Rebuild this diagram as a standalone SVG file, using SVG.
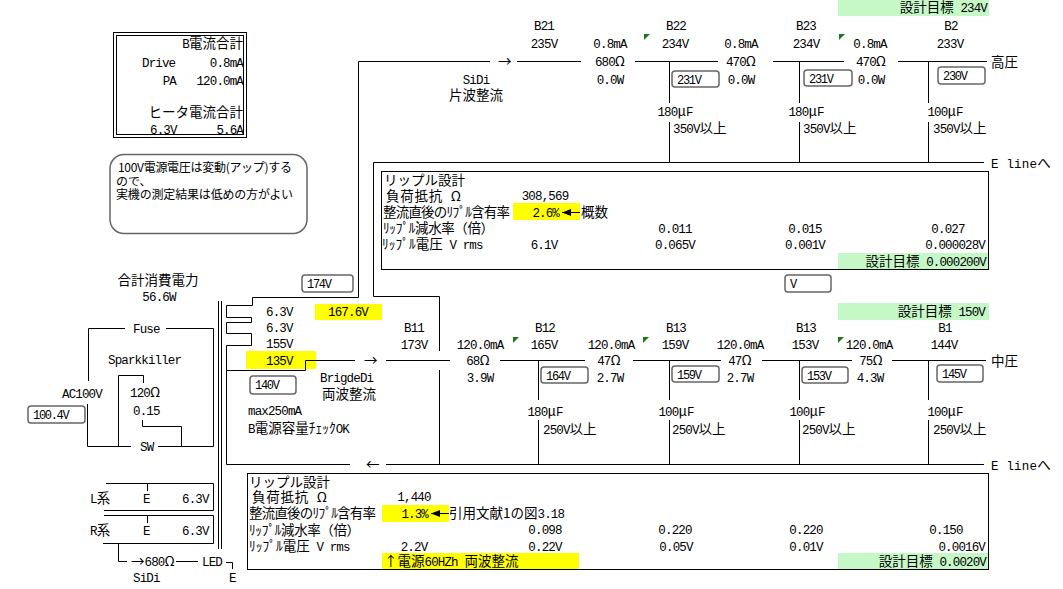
<svg xmlns="http://www.w3.org/2000/svg" width="1063" height="589" viewBox="0 0 1063 589">
<style>
text{font-family:"Liberation Mono","Noto Sans CJK JP",monospace;font-size:12.5px;letter-spacing:-.85px;fill:#000;white-space:pre}
.k{font-family:"Noto Sans CJK JP","Liberation Sans",sans-serif;font-size:13.5px;letter-spacing:0;font-weight:400}
.s{font-family:"Noto Sans CJK JP","Liberation Sans",sans-serif;font-size:12px;letter-spacing:0;font-weight:400}
.p{font-size:12px;letter-spacing:-1.3px}
.e{letter-spacing:.2px}
.m{text-anchor:middle}.r{text-anchor:end}
.w{fill:none;stroke:#000;stroke-width:1}
.pill{fill:#fff;stroke:#666;stroke-width:1.5}
.y{fill:#ffff00}.g{fill:#c6f7c6}.t{fill:#1a7a1a}
.box{fill:#fff;stroke:#000;stroke-width:1}
</style>
<defs><marker id="ah" markerUnits="userSpaceOnUse" markerWidth="9" markerHeight="7" refX="9" refY="3.500" orient="auto"><path d="M0 0L9 3.500L0 7Z" fill="#000"/></marker></defs>
<rect width="1063" height="589" fill="#fff"/>

<g id="fills">
<rect class="g" x="838" y="0" width="151" height="16"/>
<rect class="y" x="315" y="304" width="67" height="16"/>
<rect class="g" x="838" y="303" width="151" height="17"/>
<rect class="y" x="246" y="351" width="70" height="18"/>
</g>

<g id="connectors">
<path class="w" d="M226.500 305.500H252.500V297.500H358.500V61.500H490"/>
<path class="w" d="M517 61.500H581M635 61.500H718M773 61.500H844M898 61.500H987"/>
<path class="w" d="M669.500 61V103M669.500 122V163M799.500 61V103M799.500 122V163M928.500 61V103M928.500 122V163"/>
<path class="w" d="M373.500 296.500V162.500H984"/>
<path class="w" d="M373.500 296.500H439.500V351M439.500 370V465"/>
<path class="w" d="M218.500 301V549M221.500 301V549"/>
<path class="w" d="M226.500 305.500V317.500H251.500V322.500H226.500V333.500H251.500V345.500H226.500V464.500H350M386 464.500H984"/>
<path class="w" d="M226.500 370.500H305.500V360.500H355M386 360.500H450M500 360.500H585M633 360.500H721M762 360.500H852M892 360.500H986"/>
<path class="w" d="M538.500 360V400M538.500 420V465M669.500 360V400M669.500 420V465M799.500 360V400M799.500 420V465M928.500 360V400M928.500 420V465"/>
<path class="w" d="M88.500 381V328.500H125M166 328.500H213.500V446.500H158M131 446.500H87.500V404"/>
<path class="w" d="M118.500 446V375.500H143.500V383M142.500 420V426.500H181.500V446"/>
<path class="w" d="M106 483.500H213.500V510.500H104M147.500 483V491M104 515.500H213.500V543.500H103M147.500 515V523"/>
<path class="w" d="M118.500 543V561.500H127M176 561.500H198M226 562.500H232.500V569"/>
</g>

<g id="b-total">
<rect class="w" x="113.500" y="32.500" width="133" height="105"/>
<rect class="w" x="116.500" y="35.500" width="127" height="99"/>
<text class="r" x="243" y="48"><tspan>B</tspan><tspan class="k">電流合計</tspan></text>
<text x="142" y="67">Drive</text><text class="r" x="243" y="67">0.8mA</text>
<text class="r" x="176" y="85">PA</text><text class="r" x="243" y="85">120.0mA</text>
<text class="k r" x="243" y="117">ヒータ電流合計</text>
<text x="150" y="134">6.3V</text><text class="r" x="243" y="134">5.6A</text>
</g>

<g id="note">
<rect class="pill" x="110" y="154.500" width="197" height="79" rx="14"/>
<text class="s" x="118" y="172" textLength="174">100V電源電圧は変動(アップ)する</text>
<text class="s" x="116" y="186">ので、</text>
<text class="s" x="116" y="199" textLength="177">実機の測定結果は低めの方がよい</text>
</g>

<g id="power-total">
<text class="k m" x="158" y="285">合計消費電力</text>
<text class="m" x="159" y="301">56.6W</text>
</g>

<g id="primary">
<text x="133" y="333">Fuse</text>
<text x="108" y="364">Sparkkiller</text>
<text x="62" y="398">AC100V</text>
<text x="130" y="397">120<tspan class="k">Ω</tspan></text>
<text x="133" y="415">0.15</text>
<text x="140" y="451">SW</text>
<rect class="pill" x="28" y="406" width="57" height="17" rx="3"/>
<text class="p" x="33" y="419">100.4V</text>
</g>

<g id="heaters">
<text x="90" y="503">L<tspan class="k">系</tspan></text><text x="143" y="503">E</text><text x="182" y="503">6.3V</text>
<text x="90" y="535">R<tspan class="k">系</tspan></text><text x="143" y="535">E</text><text x="182" y="535">6.3V</text>
<text x="131" y="566"><tspan class="k">→</tspan>680<tspan class="k">Ω</tspan></text>
<text x="202" y="566">LED</text>
<text x="229" y="582">E</text>
<text x="133" y="582">SiDi</text>
</g>

<g id="transformer">
<rect class="pill" x="302" y="275" width="51" height="17" rx="3"/><text class="p" x="307" y="288">174V</text>
<text x="266" y="316">6.3V</text><text class="m" x="348" y="316">167.6V</text>
<text x="266" y="332">6.3V</text>
<text x="266" y="348">155V</text>
<text x="266" y="365">135V</text>
<rect class="pill" x="250" y="376" width="46" height="18" rx="3"/><text class="p" x="255" y="389">140V</text>
<text x="248" y="415">max250mA</text>
<text x="248" y="433">B<tspan class="k">電源容量ﾁｪｯｸ</tspan>OK</text>
<text x="320" y="382">BrigdeDi</text>
<text class="k" x="322" y="399">両波整流</text>
<text class="k" x="364" y="365">→</text>
<text class="k" x="366" y="469">←</text>
</g>

<g id="high-voltage">
<text class="r" x="987" y="12"><tspan class="k">設計目標</tspan> 234V</text>
<text class="m" x="544" y="30">B21</text><text class="m" x="676" y="30">B22</text><text class="m" x="806" y="30">B23</text><text class="m" x="951" y="30">B2</text>
<text class="m" x="544" y="48">235V</text><text class="m" x="610" y="48">0.8mA</text><text class="m" x="675" y="48">234V</text><text class="m" x="741" y="48">0.8mA</text><text class="m" x="806" y="48">234V</text><text class="m" x="870" y="48">0.8mA</text><text class="m" x="950" y="48">233V</text>
<path class="t" d="M644 34H650L644 40Z"/><path class="t" d="M839 34H845L839 40Z"/>
<text class="k" x="498" y="66">→</text>
<text class="m" x="610" y="66">680<tspan class="k">Ω</tspan></text><text class="m" x="741" y="66">470<tspan class="k">Ω</tspan></text><text class="m" x="871" y="66">470<tspan class="k">Ω</tspan></text>
<text class="k" x="991" y="67">高圧</text>
<text class="m" x="610" y="84">0.0W</text><text class="m" x="741" y="84">0.0W</text><text class="m" x="871" y="84">0.0W</text>
<text class="m" x="476" y="84">SiDi</text><text class="k m" x="476" y="100">片波整流</text>
<rect class="pill" x="672" y="71" width="47" height="16" rx="3"/><text class="p" x="677" y="84">231V</text>
<rect class="pill" x="804" y="70" width="48" height="16" rx="3"/><text class="p" x="809" y="83">231V</text>
<rect class="pill" x="938" y="67" width="47" height="17" rx="3"/><text class="p" x="943" y="80">230V</text>
<text class="m" x="675" y="116">180<tspan class="k">μ</tspan>F</text><text class="m" x="806" y="116">180<tspan class="k">μ</tspan>F</text><text class="m" x="945" y="116">100<tspan class="k">μ</tspan>F</text>
<text x="673" y="133">350V<tspan class="k">以上</tspan></text><text x="803" y="133">350V<tspan class="k">以上</tspan></text><text x="933" y="133">350V<tspan class="k">以上</tspan></text>
<text class="e" x="991" y="168">E line<tspan class="k">へ</tspan></text>
</g>

<g id="ripple-high">
<rect class="box" x="381.500" y="171.500" width="607" height="98"/>
<rect class="y" x="513" y="203" width="67" height="17"/>
<rect class="g" x="838" y="253" width="150" height="16"/>
<text class="k" x="384" y="185">リップル設計</text>
<text class="k" x="386" y="201" textLength="75">負荷抵抗  Ω</text><text class="m" x="545" y="200">308,569</text>
<text class="k" x="383" y="217" textLength="127">整流直後のﾘﾌﾟﾙ含有率</text><text class="r" x="559" y="217">2.6%</text><text class="k" x="581" y="217">概数</text>
<path class="w" d="M580 212.500H562" marker-end="url(#ah)"/>
<text class="k" x="383" y="233" textLength="111">ﾘｯﾌﾟﾙ減水率（倍）</text><text class="m" x="675" y="233">0.011</text><text class="m" x="805" y="233">0.015</text><text class="m" x="948" y="233">0.027</text>
<text x="382" y="249"><tspan class="k">ﾘｯﾌﾟﾙ電圧</tspan> V rms</text><text class="m" x="544" y="249">6.1V</text><text class="m" x="675" y="249">0.065V</text><text class="m" x="805" y="249">0.001V</text><text class="r" x="985" y="249">0.000028V</text>
<text class="r" x="986" y="266"><tspan class="k">設計目標</tspan> 0.000200V</text>
</g>

<g id="probe-v"><rect class="pill" x="785" y="275" width="46" height="17" rx="3"/><text class="p" x="790" y="288">V</text></g>

<g id="mid-voltage">
<text class="r" x="985" y="316"><tspan class="k">設計目標</tspan> 150V</text>
<text class="m" x="414" y="332">B11</text><text class="m" x="545" y="332">B12</text><text class="m" x="676" y="332">B13</text><text class="m" x="806" y="332">B13</text><text class="m" x="945" y="332">B1</text>
<text class="m" x="414" y="349">173V</text><text class="m" x="480" y="349">120.0mA</text><text class="m" x="544" y="349">165V</text><text class="m" x="611" y="349">120.0mA</text><text class="m" x="675" y="349">159V</text><text class="m" x="740" y="349">120.0mA</text><text class="m" x="805" y="349">153V</text><text class="m" x="869" y="349">120.0mA</text><text class="m" x="944" y="349">144V</text>
<path class="t" d="M513 337H519L513 343Z"/><path class="t" d="M643 337H649L643 343Z"/><path class="t" d="M838 337H844L838 343Z"/>
<text class="m" x="478" y="365">68<tspan class="k">Ω</tspan></text><text class="m" x="609" y="365">47<tspan class="k">Ω</tspan></text><text class="m" x="740" y="365">47<tspan class="k">Ω</tspan></text><text class="m" x="871" y="365">75<tspan class="k">Ω</tspan></text>
<text class="k" x="991" y="366">中圧</text>
<text class="m" x="480" y="382">3.9W</text><text class="m" x="610" y="382">2.7W</text><text class="m" x="740" y="382">2.7W</text><text class="m" x="870" y="382">4.3W</text>
<rect class="pill" x="541" y="367" width="47" height="16" rx="3"/><text class="p" x="546" y="380">164V</text>
<rect class="pill" x="672" y="366" width="47" height="16" rx="3"/><text class="p" x="677" y="379">159V</text>
<rect class="pill" x="802" y="367" width="46" height="16" rx="3"/><text class="p" x="807" y="380">153V</text>
<rect class="pill" x="937" y="365" width="46" height="17" rx="3"/><text class="p" x="942" y="378">145V</text>
<text class="m" x="545" y="416">180<tspan class="k">μ</tspan>F</text><text class="m" x="676" y="416">100<tspan class="k">μ</tspan>F</text><text class="m" x="807" y="416">100<tspan class="k">μ</tspan>F</text><text class="m" x="945" y="416">100<tspan class="k">μ</tspan>F</text>
<text x="543" y="434">250V<tspan class="k">以上</tspan></text><text x="672" y="434">250V<tspan class="k">以上</tspan></text><text x="802" y="434">250V<tspan class="k">以上</tspan></text><text x="933" y="434">250V<tspan class="k">以上</tspan></text>
<text class="e" x="991" y="470">E line<tspan class="k">へ</tspan></text>
</g>

<g id="ripple-mid">
<rect class="box" x="247.500" y="473.500" width="741" height="96"/>
<rect class="y" x="382" y="505" width="67" height="17"/>
<rect class="y" x="382" y="553" width="197" height="16"/>
<rect class="g" x="838" y="553" width="150" height="16"/>
<text class="k" x="249" y="487">リップル設計</text>
<text class="k" x="252" y="502" textLength="75">負荷抵抗  Ω</text><text class="m" x="414" y="501">1,440</text>
<text class="k" x="249" y="518" textLength="127">整流直後のﾘﾌﾟﾙ含有率</text><text class="r" x="428" y="518">1.3%</text><text x="449" y="518"><tspan class="k">引用文献1の図</tspan>3.18</text>
<path class="w" d="M449 513.500H431" marker-end="url(#ah)"/>
<text class="k" x="249" y="535" textLength="111">ﾘｯﾌﾟﾙ減水率（倍）</text><text class="m" x="545" y="534">0.098</text><text class="m" x="675" y="534">0.220</text><text class="m" x="806" y="534">0.220</text><text class="m" x="946" y="534">0.150</text>
<text x="249" y="551"><tspan class="k">ﾘｯﾌﾟﾙ電圧</tspan> V rms</text><text class="m" x="414" y="551">2.2V</text><text class="m" x="545" y="551">0.22V</text><text class="m" x="676" y="551">0.05V</text><text class="m" x="806" y="551">0.01V</text><text class="r" x="985" y="551">0.0016V</text>
<text x="384" y="566"><tspan class="k">↑電源</tspan>60HZh <tspan class="k">両波整流</tspan></text>
<text class="r" x="986" y="566"><tspan class="k">設計目標</tspan> 0.0020V</text>
</g>
</svg>
